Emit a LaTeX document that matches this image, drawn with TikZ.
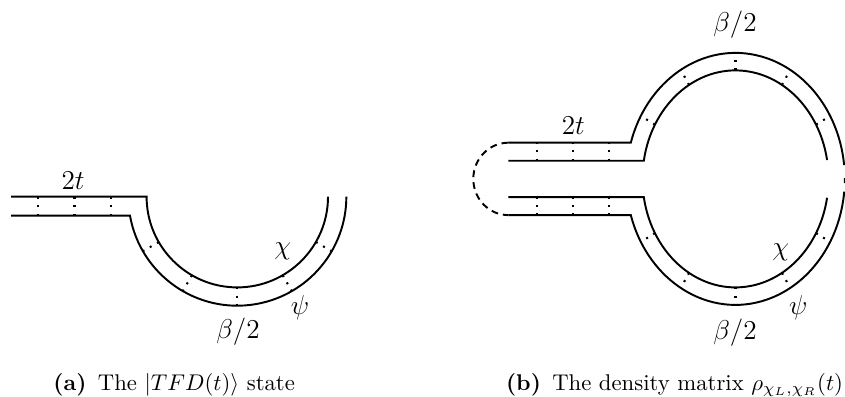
\documentclass[tikz,border=0pt]{standalone}
\begin{document}
\begin{tikzpicture}[x=0.44pt,y=0.44pt,
  tube/.style={line width=0.85pt},
  dotline/.style={line width=0.9pt, dash pattern=on 0.9pt off 2.75pt},
  lbl/.style={font=\large, inner sep=0pt},
  captxt/.style={inner sep=0pt, font=\normalsize}]
\useasboundingbox (0,0) rectangle (845,396);

% ---------- panel (a) ----------
\coordinate (ca) at (237.3,199.3);
\draw[tube] (11,199.3) -- (146.6,199.3) arc[start angle=180,end angle=360,radius=90.7];
\draw[tube] (11,180.3) -- (130,180.3) arc[start angle=190.04,end angle=360,radius=109];
\foreach \x in {38,74.5,111} \draw[dotline] (\x,180.3) -- (\x,199.3);
\foreach \a in {210,240,270,300,330}
  \draw[dotline] ([shift={(\a:90.7)}]ca) -- ([shift={(\a:109)}]ca);
\node[lbl] (a2t) at (73,215.5) {$2t$};
\node[lbl] (achi) at (282.7,144.3) {$\chi$};
\node[lbl] (apsi) at (300,88) {$\psi$};
\node[lbl] (abeta) at (238,64.3) {$\beta/2$};
\node[captxt, anchor=base west] (capa) at (53,5.7) {\textbf{(a)}\hspace{0.5em}The $|TFD(t)\rangle$ state};

% ---------- panel (b) ----------
\coordinate (cb) at (735.5,217.1);
\draw[tube] (508.3,235.25) -- (643.8,235.25) arc[start angle=170.37,end angle=10,x radius=93,y radius=108.5];
\draw[tube] (508.3,198.95) -- (643.8,198.95) arc[start angle=189.63,end angle=350,x radius=93,y radius=108.5];
\draw[tube] (508.3,253.3) -- (630.8,253.3) arc[start angle=163.3,end angle=6.3,x radius=109.3,y radius=126];
\draw[tube] (508.3,180.9) -- (630.8,180.9) arc[start angle=196.7,end angle=354.2,x radius=109.3,y radius=126];
\draw[tube] ([shift={(0.4:109.3 and 126)}]cb) arc[start angle=0.4,end angle=-1.9,x radius=109.3,y radius=126];
\draw[tube, dash pattern=on 3pt off 2.2pt] (508.3,253.3) arc[start angle=90,end angle=270,x radius=35,y radius=36.2];
\foreach \x in {536.7,573.3,609.3} {
  \draw[dotline] (\x,235.25) -- (\x,253.3);
  \draw[dotline] (\x,180.9) -- (\x,198.95);
}
\foreach \a in {30,60,90,120,150,210,240,270,300,330}
  \draw[dotline] ([shift={(\a:93 and 108.5)}]cb) -- ([shift={(\a:109.3 and 126)}]cb);
\node[lbl] (b2t) at (573.3,270.2) {$2t$};
\node[lbl] (bbetatop) at (735,371.8) {$\beta/2$};
\node[lbl] (bbetabot) at (735,63.5) {$\beta/2$};
\node[lbl] (bchi) at (780.8,143.5) {$\chi$};
\node[lbl] (bpsi) at (798.3,88) {$\psi$};
\node[captxt, anchor=base east] (capb) at (843.5,5.7) {\textbf{(b)}\hspace{0.5em}The density matrix $\rho_{\chi_L,\chi_R}(t)$};
\end{tikzpicture}
\end{document}
